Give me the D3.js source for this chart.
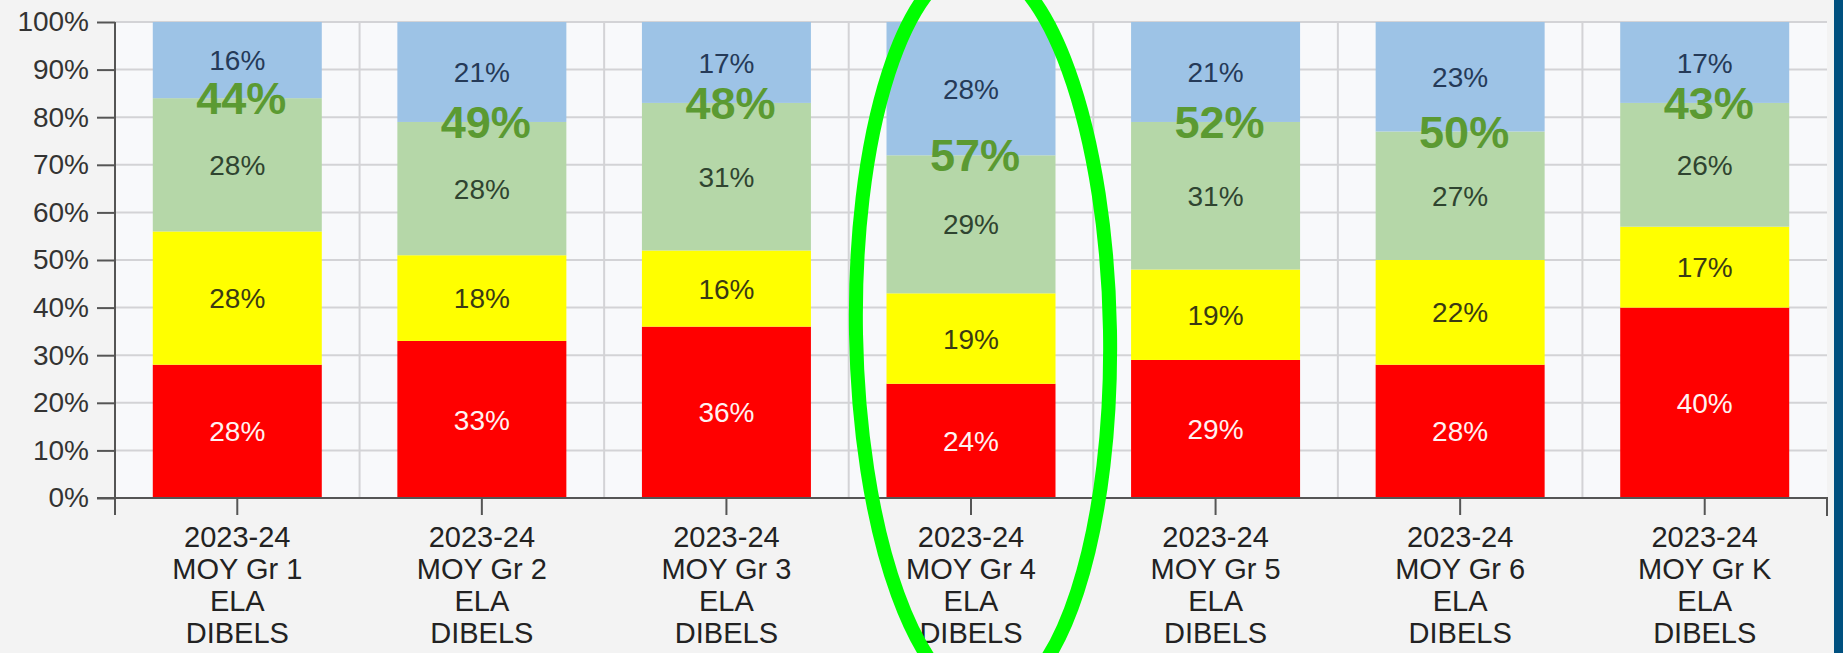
<!DOCTYPE html>
<html>
<head>
<meta charset="utf-8">
<script src="https://cdn.jsdelivr.net/npm/d3@7"></script>
<style>
  html, body { margin: 0; padding: 0; background: #f3f3f3; }
  svg { display: block; font-family: "Liberation Sans", Arial, sans-serif; }
</style>
</head>
<body>
<svg id="chart" width="1843" height="653"></svg>
<script>
// ---- data ----
const categories = ["Gr 1", "Gr 2", "Gr 3", "Gr 4", "Gr 5", "Gr 6", "Gr K"];
const categoryLabels = [
  ["2023-24", "MOY Gr 1", "ELA", "DIBELS"],
  ["2023-24", "MOY Gr 2", "ELA", "DIBELS"],
  ["2023-24", "MOY Gr 3", "ELA", "DIBELS"],
  ["2023-24", "MOY Gr 4", "ELA", "DIBELS"],
  ["2023-24", "MOY Gr 5", "ELA", "DIBELS"],
  ["2023-24", "MOY Gr 6", "ELA", "DIBELS"],
  ["2023-24", "MOY Gr K", "ELA", "DIBELS"]
];
const red    = [28, 33, 36, 24, 29, 28, 40];
const yellow = [28, 18, 16, 19, 19, 22, 17];
const green  = [28, 28, 31, 29, 31, 27, 26];
const blue   = [16, 21, 17, 28, 21, 23, 17];
const yTicks = [0, 10, 20, 30, 40, 50, 60, 70, 80, 90, 100];
const highlighted = "Gr 4";

// ---- layout ----
const W = 1843, H = 653;
const svg = d3.select("#chart");
svg.append("rect").attr("width", W).attr("height", H).attr("fill", "#f3f3f3");
svg.append("rect").attr("x", 1834).attr("y", 0).attr("width", 9).attr("height", H).attr("fill", "#00507f");

const x0 = 115, x1 = 1827, yBottom = 498, yTop = 22;
const x = d3.scaleBand().domain(categories).range([x0, x1]).paddingInner(0.309).paddingOuter(0.1545);
const y = d3.scaleLinear().domain([0, 100]).range([yBottom, yTop]);
const step = x.step();

// plot background
svg.append("rect").attr("x", x0).attr("y", yTop).attr("width", x1 - x0).attr("height", yBottom - yTop).attr("fill", "#f8f9fb");

// gridlines
const grid = svg.append("g").attr("stroke", "#d3d3d6").attr("stroke-width", 2);
grid.selectAll("line.h").data(yTicks.filter(d => d > 0)).join("line")
  .attr("x1", x0).attr("x2", x1).attr("y1", d => y(d)).attr("y2", d => y(d));
grid.selectAll("line.v").data(categories.slice(1)).join("line")
  .attr("x1", d => x(d) - (step - x.bandwidth()) / 2).attr("x2", d => x(d) - (step - x.bandwidth()) / 2)
  .attr("y1", yTop).attr("y2", yBottom);

// stacked data
const rows = categories.map((c, i) => ({ cat: c, red: red[i], yellow: yellow[i], green: green[i], blue: blue[i] }));
const keys = ["red", "yellow", "green", "blue"];
const fills = { red: "#ff0000", yellow: "#ffff00", green: "#b5d7a8", blue: "#9dc3e6" };
const textFills = { red: "#fff2f2", yellow: "#3a3a14", green: "#2f4430", blue: "#253a58" };
const stacked = d3.stack().keys(keys)(rows);

const layers = svg.append("g").selectAll("g").data(stacked).join("g").attr("fill", s => fills[s.key]);
layers.selectAll("rect").data(s => s).join("rect")
  .attr("x", d => x(d.data.cat))
  .attr("width", x.bandwidth())
  .attr("y", d => y(d[1]))
  .attr("height", d => y(d[0]) - y(d[1]));

// segment labels
const labels = svg.append("g").attr("font-size", 28).attr("text-anchor", "middle");
stacked.forEach(s => {
  labels.append("g").attr("fill", textFills[s.key]).selectAll("text").data(s).join("text")
    .attr("x", d => x(d.data.cat) + x.bandwidth() / 2)
    .attr("y", d => y((d[0] + d[1]) / 2))
    .attr("dy", "0.36em")
    .text(d => (d[1] - d[0]) + "%");
});

// axes
const yAxis = svg.append("g").attr("transform", `translate(${x0},0)`)
  .call(d3.axisLeft(y).tickValues(yTicks).tickFormat(d => d + "%").tickSize(18).tickSizeOuter(0).tickPadding(8));
yAxis.select(".domain").attr("d", `M0,${yTop}V${yBottom + 17}`);
yAxis.selectAll("line, path").attr("stroke", "#555").attr("stroke-width", 2);
yAxis.selectAll("text").attr("font-size", 28).attr("fill", "#333").attr("font-family", "Liberation Sans, Arial, sans-serif");

const xAxis = svg.append("g").attr("transform", `translate(0,${yBottom})`)
  .call(d3.axisBottom(x).tickSize(17).tickSizeOuter(18).tickFormat(""));
xAxis.select(".domain").attr("d", `M${x0 - 18},0H${x1}V18`);
xAxis.selectAll("line, path").attr("stroke", "#555").attr("stroke-width", 2);
xAxis.selectAll(".tick").each(function(d, i) {
  const t = d3.select(this).append("text")
    .attr("fill", "#222").attr("font-size", 29).attr("text-anchor", "middle")
    .attr("font-family", "Liberation Sans, Arial, sans-serif");
  categoryLabels[i].forEach((line, j) => {
    t.append("tspan").attr("x", 0).attr("y", 49 + j * 32).text(line);
  });
});

// big "proficient" totals (green + blue)
svg.append("g").selectAll("text").data(rows).join("text")
  .attr("x", d => x(d.cat) + x.bandwidth() / 2 + 4)
  .attr("y", d => y(d.red + d.yellow + d.green))
  .attr("dy", "0.36em")
  .attr("text-anchor", "middle")
  .attr("font-size", 45).attr("font-weight", "bold").attr("fill", "#5b9a32")
  .text(d => (d.green + d.blue) + "%");

// highlight ellipse
const hx = x(highlighted) + x.bandwidth() / 2 + 12;
svg.append("ellipse")
  .attr("cx", hx).attr("cy", 332).attr("rx", 127).attr("ry", 369)
  .attr("transform", `rotate(-1,${hx},332)`)
  .attr("fill", "none").attr("stroke", "#00ff00").attr("stroke-width", 14);
</script>
</body>
</html>
